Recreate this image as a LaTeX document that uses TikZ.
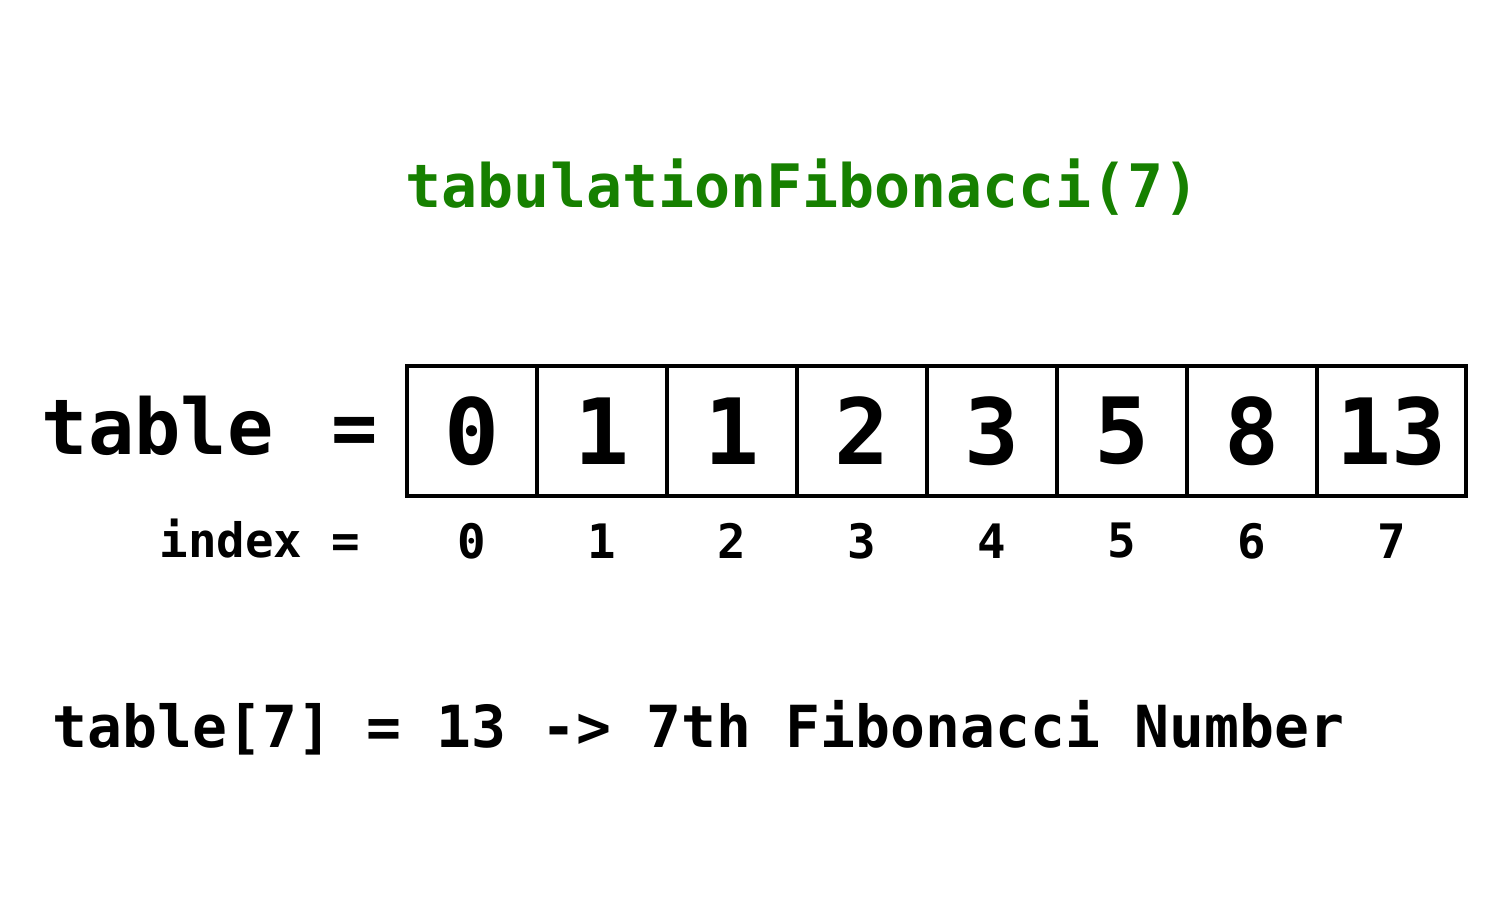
\documentclass[tikz,border=0pt]{standalone}
\usepackage{fontspec}
\setmonofont{DejaVu Sans Mono}
\usepackage{xcolor}
\usetikzlibrary{chains, positioning}
\definecolor{fibgreen}{RGB}{22,128,0}

\begin{document}
\begin{tikzpicture}[
    node distance = 0cm,
    start chain = going right,
    cell/.style = {
        draw, rectangle, line width=1.3pt, minimum width=1.3cm, minimum height=1.3cm,
        inner sep=0pt, outer sep=0pt, on chain,
        font=\ttfamily\bfseries\fontsize{26}{30}\selectfont
    },
    idx/.style = {inner sep=0pt, font=\ttfamily\bfseries\fontsize{13.5}{16}\selectfont},
    txt/.style = {inner sep=0pt, anchor=base west}
  ]
    \useasboundingbox (0,0) rectangle (15,9);
    % titel
    \node[txt, text=fibgreen, font=\ttfamily\bfseries\fontsize{17.05}{20}\selectfont] (title) at (4.05,6.92) {tabulationFibonacci(7)};
    % tabel
    \node[txt, font=\ttfamily\bfseries\fontsize{21.9}{26}\selectfont] (tablename) at (0.41,4.45) {table\hspace{0.12cm} =};
    \node[cell, at={(4.72,4.69)}] (c0) {0};  % cel 0
    \node[cell] (c1) {1};
    \node[cell] (c2) {1};
    \node[cell] (c3) {2};
    \node[cell] (c4) {3};
    \node[cell] (c5) {5};
    \node[cell] (c6) {8};
    \node[cell, minimum width=1.49cm] (c7) {13};  % laatste cel is breder
    % indices
    \node[txt, font=\ttfamily\bfseries\fontsize{13.5}{16}\selectfont] (indexname) at (1.59,3.42) {index =};
    \node[idx] (i0) at ([yshift=-0.45cm]c0.south) {0};
    \node[idx] (i1) at ([yshift=-0.45cm]c1.south) {1};
    \node[idx] (i2) at ([yshift=-0.45cm]c2.south) {2};
    \node[idx] (i3) at ([yshift=-0.45cm]c3.south) {3};
    \node[idx] (i4) at ([yshift=-0.45cm]c4.south) {4};
    \node[idx] (i5) at ([yshift=-0.45cm]c5.south) {5};
    \node[idx] (i6) at ([yshift=-0.45cm]c6.south) {6};
    \node[idx] (i7) at ([yshift=-0.45cm]c7.south) {7};
    % resultaat
    \node[txt, font=\ttfamily\bfseries\fontsize{16.5}{20}\selectfont] (result) at (0.52,1.52) {table[7] = 13 -> 7th Fibonacci Number};
\end{tikzpicture}
\end{document}
